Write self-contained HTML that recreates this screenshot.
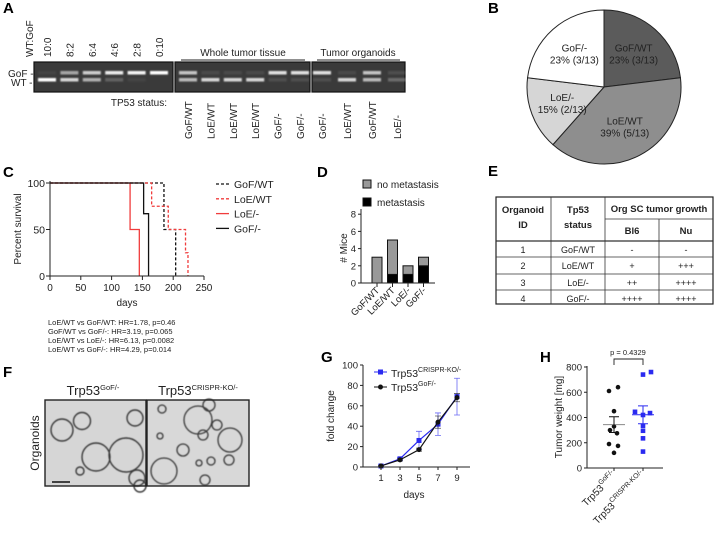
<!DOCTYPE html>
<html><head><meta charset="utf-8"><style>
html,body{margin:0;padding:0;background:#fff;}
svg{display:block;font-family:"Liberation Sans",Arial,sans-serif;}
.pl{font-weight:bold;font-size:15px;}
.t{font-size:10px;fill:#222;}
.s{font-size:7.5px;fill:#222;}
</style></head><body>
<svg id="fig" width="715" height="538" viewBox="0 0 715 538">
<defs>
<filter id="blur" x="-20%" y="-100%" width="140%" height="300%"><feGaussianBlur stdDeviation="0.9"/></filter>
<filter id="blur2"><feGaussianBlur stdDeviation="0.5"/></filter>
</defs>

<!-- PANEL A -->
<g>
<text class="pl" x="3" y="13">A</text>
<text class="t" transform="translate(33,57) rotate(-90)">WT:GoF</text>
<g id="ratioLabels"></g>
<text class="t" x="243" y="56" text-anchor="middle">Whole tumor tissue</text>
<line x1="181" y1="60" x2="305" y2="60" stroke="#222"/>
<text class="t" x="358" y="56" text-anchor="middle">Tumor organoids</text>
<line x1="317" y1="60" x2="400" y2="60" stroke="#222"/>
<text class="t" x="8" y="77">GoF -</text>
<text class="t" x="11" y="86">WT -</text>
<rect x="34" y="62" width="139" height="30" fill="#3a3a3a" stroke="#111" stroke-width="1.2"/>
<rect x="175" y="62" width="135" height="30" fill="#3a3a3a" stroke="#111" stroke-width="1.2"/>
<rect x="312" y="62" width="93" height="30" fill="#3a3a3a" stroke="#111" stroke-width="1.2"/>
<g id="bands" filter="url(#blur)"></g>
<text class="t" x="167" y="106" text-anchor="end">TP53 status:</text>
<g id="statusLabels"></g>
</g>

<!-- PANEL B -->
<g>
<text class="pl" x="488" y="13">B</text>
<g id="pie"></g>
</g>

<!-- PANEL C -->
<g>
<text class="pl" x="3" y="177">C</text>
<g id="km"></g>
</g>

<!-- PANEL D -->
<g>
<text class="pl" x="317" y="177">D</text>
<g id="bars"></g>
</g>

<!-- PANEL E -->
<g>
<text class="pl" x="488" y="176">E</text>
<g id="table" font-family="Liberation Sans, sans-serif"></g>
</g>

<!-- PANEL F -->
<g>
<text class="pl" x="3" y="377">F</text>
<text x="93" y="395" text-anchor="middle" font-size="13" fill="#222">Trp53<tspan font-size="7.5" dy="-5">GoF/-</tspan></text>
<text x="198" y="395" text-anchor="middle" font-size="13" fill="#222">Trp53<tspan font-size="7.5" dy="-5">CRISPR-KO/-</tspan></text>
<text transform="translate(39,443) rotate(-90)" text-anchor="middle" font-size="12" fill="#222">Organoids</text>
<g>
<rect x="45" y="400" width="101" height="86" fill="#d6d6d6"/>
<g fill="none" stroke="#3a3a3a" stroke-width="1.4" filter="url(#blur2)">
<circle cx="62" cy="430" r="11"/><circle cx="82" cy="421" r="8.5"/><circle cx="135" cy="418" r="8"/>
<circle cx="96" cy="457" r="14"/><circle cx="126" cy="455" r="17"/><circle cx="80" cy="471" r="4"/>
<circle cx="137" cy="478" r="8"/><circle cx="140" cy="486" r="6"/>
</g>
<rect x="45" y="400" width="101" height="86" fill="none" stroke="#222" stroke-width="1.4"/>
<line x1="52" y1="482" x2="70" y2="482" stroke="#111" stroke-width="1.5"/>
</g>
<g>
<rect x="147" y="400" width="102" height="86" fill="#d8d8d8"/>
<g fill="none" stroke="#3a3a3a" stroke-width="1.3" filter="url(#blur2)">
<circle cx="198" cy="420" r="14"/><circle cx="209" cy="405" r="6"/><circle cx="162" cy="409" r="4"/>
<circle cx="217" cy="425" r="5"/><circle cx="203" cy="435" r="5"/><circle cx="230" cy="440" r="12"/>
<circle cx="183" cy="450" r="6"/><circle cx="164" cy="471" r="13"/><circle cx="211" cy="461" r="4"/>
<circle cx="229" cy="460" r="5"/><circle cx="199" cy="463" r="3"/><circle cx="205" cy="480" r="5"/>
<circle cx="160" cy="436" r="3"/>
</g>
<rect x="147" y="400" width="102" height="86" fill="none" stroke="#222" stroke-width="1.4"/>
</g>
</g>

<!-- PANEL G -->
<g>
<text class="pl" x="321" y="362">G</text>
<g id="growth"></g>
</g>

<!-- PANEL H -->
<g>
<text class="pl" x="540" y="362">H</text>
<g id="weights"></g>
</g>
</svg>

<script>
const NS='http://www.w3.org/2000/svg';
function mk(parent,tag,attrs,txt){const e=document.createElementNS(NS,tag);for(const k in attrs)e.setAttribute(k,attrs[k]);if(txt!==undefined)e.textContent=txt;parent.appendChild(e);return e;}

// ---------- Panel A data ----------
const ratioLabels=['10:0','8:2','6:4','4:6','2:8','0:10'];
const ratioGof=[0.05,0.55,0.75,0.9,0.95,1];
const ratioWt=[1,0.8,0.6,0.2,0.05,0];
const tissueStatus=['GoF/WT','LoE/WT','LoE/WT','LoE/WT','GoF/-','GoF/-'];
const organoidStatus=['GoF/-','LoE/WT','GoF/WT','LoE/-'];
const bandGof={'GoF/WT':0.7,'LoE/WT':0.08,'GoF/-':0.85,'LoE/-':0.1};
const bandWt={'GoF/WT':0.65,'LoE/WT':0.8,'GoF/-':0.1,'LoE/-':0.25};
(function(){
  const rl=document.getElementById('ratioLabels'),bd=document.getElementById('bands'),sl=document.getElementById('statusLabels');
  const x0=47,dx=22.4;
  ratioLabels.forEach((l,i)=>{const x=x0+i*dx;
    const t=mk(rl,'text',{class:'t',transform:`translate(${x+4},57) rotate(-90)`},l);
    
    
    const g=mk(bd,'rect',{x:x-9,y:71,width:18,height:3.5,fill:'#fff','fill-opacity':ratioGof[i]});
    
    
    const w=mk(bd,'rect',{x:x-9,y:78,width:18,height:3.5,fill:'#fff','fill-opacity':ratioWt[i]});
    
    
  });
  const lanes=tissueStatus.map((s,i)=>[188+i*22.4,s]).concat(organoidStatus.map((s,i)=>[322+i*25,s]));
  lanes.forEach(([x,s])=>{
    const t=mk(sl,'text',{class:'t',transform:`translate(${x+4},139) rotate(-90)`},s);
    
    
    const g=mk(bd,'rect',{x:x-9,y:71,width:18,height:3.5,fill:'#fff','fill-opacity':bandGof[s]});
    
    
    const w=mk(bd,'rect',{x:x-9,y:78,width:18,height:3.5,fill:'#fff','fill-opacity':bandWt[s]});
    
    
  });
})();

// ---------- Panel B data ----------
const pieLabels=['GoF/WT','LoE/WT','LoE/-','GoF/-'];
const pieCounts=[3,5,2,3];
const piePct=['23%','39%','15%','23%'];
const pieColors=['#5b5b5b','#8e8e8e','#d6d6d6','#ffffff'];
(function(){
  const g=document.getElementById('pie');const cx=604,cy=87,r=77;
  const tot=pieCounts.reduce((a,b)=>a+b,0);let a0=0;
  pieCounts.forEach((c,i)=>{const a1=a0+c/tot*2*Math.PI;
    const p=(a)=>[cx+r*Math.sin(a),cy-r*Math.cos(a)];
    const [x0,y0]=p(a0),[x1,y1]=p(a1);
    const s=mk(g,'path',{d:`M${cx},${cy}L${x0},${y0}A${r},${r} 0 ${a1-a0>Math.PI?1:0} 1 ${x1},${y1}Z`,fill:pieColors[i],stroke:'#222','stroke-width':1});
    
    
    const am=(a0+a1)/2;const lr=r*0.58;const lx=cx+lr*Math.sin(am),ly=cy-lr*Math.cos(am);
    const t1=mk(g,'text',{class:'t',x:lx,y:ly-2,'text-anchor':'middle'},pieLabels[i]);
    
    
    const t2=mk(g,'text',{class:'t',x:lx,y:ly+10,'text-anchor':'middle'},`${piePct[i]} (${c}/${tot})`);
    
    
    a0=a1;});
})();

// ---------- Panel C data ----------
const kmNames=['GoF/WT','LoE/WT','LoE/-','GoF/-'];
const kmTimes=[[0,185,204],[0,165,192,220,224],[0,130,145],[0,152,160]];
const kmSurv=[[100,50,0],[100,75,50,25,0],[100,50,0],[100,67,0]];
const kmColor=['#111','#f03c3c','#f03c3c','#111'];
const kmDash=['3,2','3,2','',''];
const kmXTicks=[0,50,100,150,200,250];
const kmYTicks=[0,50,100];
const kmStats=['LoE/WT vs GoF/WT: HR=1.78, p=0.46','GoF/WT vs GoF/-: HR=3.19, p=0.065','LoE/WT vs LoE/-: HR=6.13, p=0.0082','LoE/WT vs GoF/-: HR=4.29, p=0.014'];
(function(){
  const g=document.getElementById('km');
  const X=v=>50+v*(204-50)/250,Y=v=>276-v*(276-183)/100;
  kmNames.forEach((n,i)=>{let d=`M${X(kmTimes[i][0])},${Y(kmSurv[i][0])}`;
    for(let k=1;k<kmTimes[i].length;k++){d+=`H${X(kmTimes[i][k])}V${Y(kmSurv[i][k])}`;}
    const p=mk(g,'path',{d,fill:'none',stroke:kmColor[i],'stroke-width':1.3,'stroke-dasharray':kmDash[i]});
    
    
    const ly=184+i*14.8;
    const l=mk(g,'line',{x1:216,y1:ly,x2:229,y2:ly,stroke:kmColor[i],'stroke-width':1.3,'stroke-dasharray':kmDash[i]});
    
    
    const t=mk(g,'text',{x:234,y:ly+4,'font-size':'10.5',fill:'#222'},n);
    
    
  });
  const ax=mk(g,'path',{d:`M50,181V276H204`,fill:'none',stroke:'#222','stroke-width':1});
  
  
  kmXTicks.forEach(v=>{mk(g,'line',{x1:X(v),y1:276,x2:X(v),y2:280,stroke:'#222'});
    const t=mk(g,'text',{class:'t',x:X(v),y:291,'text-anchor':'middle','font-size':'10.5'},v);
    
    });
  kmYTicks.forEach(v=>{mk(g,'line',{x1:46,y1:Y(v),x2:50,y2:Y(v),stroke:'#222'});
    const t=mk(g,'text',{x:45,y:Y(v)+4,'text-anchor':'end','font-size':'10.5',fill:'#222'},v);
    
    });
  const yl=mk(g,'text',{transform:'translate(21,229) rotate(-90)','text-anchor':'middle','font-size':'10',fill:'#222'},'Percent survival');
  
  
  const xl=mk(g,'text',{x:127,y:306,'text-anchor':'middle','font-size':'10',fill:'#222'},'days');
  
  
  kmStats.forEach((s,i)=>{const t=mk(g,'text',{class:'s',x:48,y:325+i*9},s);
    
    });
})();

// ---------- Panel D data ----------
const dCats=['GoF/WT','LoE/WT','LoE/-','GoF/-'];
const dTotal=[3,5,2,3];
const dMet=[0,1,1,2];
const dYTicks=[0,2,4,6,8];
(function(){
  const g=document.getElementById('bars');
  const Y=v=>283-v*8.6, X=i=>377+i*15.5;
  dCats.forEach((c,i)=>{
    const r1=mk(g,'rect',{x:X(i)-5,y:Y(dTotal[i]),width:10,height:Y(0)-Y(dTotal[i]),fill:'#999',stroke:'#111','stroke-width':1});
    
    
    if(dMet[i]>0){const r2=mk(g,'rect',{x:X(i)-5,y:Y(dMet[i]),width:10,height:Y(0)-Y(dMet[i]),fill:'#000',stroke:'#111','stroke-width':1});
      
      }
    mk(g,'line',{x1:X(i),y1:283,x2:X(i),y2:287,stroke:'#222'});
    const t=mk(g,'text',{transform:`translate(${X(i)+3},291) rotate(-45)`,'text-anchor':'end','font-size':'9.5',fill:'#222'},c);
    
    
  });
  const ax=mk(g,'path',{d:`M361,${Y(8.6)}V283H435`,fill:'none',stroke:'#222'});
  
  
  dYTicks.forEach(v=>{mk(g,'line',{x1:358,y1:Y(v),x2:361,y2:Y(v),stroke:'#222'});
    const t=mk(g,'text',{x:356,y:Y(v)+3.5,'text-anchor':'end','font-size':'9.5',fill:'#222'},v);
    
    });
  const yl=mk(g,'text',{transform:'translate(347,248) rotate(-90)','text-anchor':'middle','font-size':'10',fill:'#222'},'# Mice');
  
  
  [['no metastasis','#999',184],['metastasis','#000',202]].forEach(([n,c,y])=>{
    const b=mk(g,'rect',{x:363,y:y-4,width:8,height:8,fill:c,stroke:'#111'});
    
    
    const t=mk(g,'text',{x:377,y:y+4,'font-size':'10',fill:'#222'},n);
    
    });
})();

// ---------- Panel E table ----------
const tIds=['1','2','3','4'];
const tStatus=['GoF/WT','LoE/WT','LoE/-','GoF/-'];
const tBl6=['-','+','++','++++'];
const tNu=['-','+++','++++','++++'];
(function(){
  const g=document.getElementById('table');
  const rows=[241,257,274,290,304];
  const L=(a,b,c,d,w)=>mk(g,'line',{x1:a,y1:b,x2:c,y2:d,stroke:'#333','stroke-width':w||0.8});
  const fr=mk(g,'rect',{x:496,y:197,width:217,height:107,fill:'none',stroke:'#222','stroke-width':1.2});
  
  
  L(551,197,551,304);L(605,197,605,304);L(659,219,659,304);L(605,219,713,219);L(496,241,713,241,1.2);
  rows.slice(1,4).forEach(y=>L(496,y,713,y));
  const T=(x,y,s,b,name)=>{const t=mk(g,'text',{x,y,'text-anchor':'middle','font-size':b?'9.5':'9',fill:'#222','font-weight':b?'bold':'normal'},s);
    
    };
  T(523,213,'Organoid',1,'header-organoid');T(523,228,'ID',1,'header-id');
  T(578,213,'Tp53',1,'header-tp53');T(578,228,'status',1,'header-status');
  T(659,212,'Org SC tumor growth',1,'header-growth');T(632,234,'Bl6',1,'header-bl6');T(686,234,'Nu',1,'header-nu');
  tIds.forEach((id,i)=>{const y=rows[i]+12;
    T(523,y,id,0,'cell-id');T(578,y,tStatus[i],0,'cell-status');T(632,y,tBl6[i],0,'cell-bl6');T(686,y,tNu[i],0,'cell-nu');});
})();

// ---------- Panel G data ----------
const gDays=[1,3,5,7,9];
const gCrispr=[1,8,26,42,69];
const gCrisprErr=[1,1,9,11,18];
const gGof=[1,7,17,44,68];
const gGofErr=[0.5,1,1.5,6,4];
const gYTicks=[0,20,40,60,80,100];
(function(){
  const g=document.getElementById('growth');
  const X=d=>381+(d-1)*9.5,Y=v=>467-v*1.02;
  [[gCrispr,gCrisprErr,'#2a2af0','crispr'],[gGof,gGofErr,'#111','gof']].forEach(([vals,err,c,n])=>{
    gDays.forEach((d,i)=>{const e=mk(g,'path',{d:`M${X(d)},${Y(vals[i]-err[i])}V${Y(vals[i]+err[i])}M${X(d)-3},${Y(vals[i]+err[i])}h6M${X(d)-3},${Y(vals[i]-err[i])}h6`,stroke:c,'stroke-width':0.8,fill:'none','stroke-opacity':0.7});
      
      });
    const p=mk(g,'polyline',{points:gDays.map((d,i)=>`${X(d)},${Y(vals[i])}`).join(' '),fill:'none',stroke:c,'stroke-width':1.2});
    
    
    gDays.forEach((d,i)=>{const m=n==='crispr'?mk(g,'rect',{x:X(d)-2.5,y:Y(vals[i])-2.5,width:5,height:5,fill:c}):mk(g,'circle',{cx:X(d),cy:Y(vals[i]),r:2.5,fill:c});
      
      });
  });
  const ax=mk(g,'path',{d:'M363,365V467H470',fill:'none',stroke:'#222'});
  
  
  gYTicks.forEach(v=>{mk(g,'line',{x1:360,y1:Y(v),x2:363,y2:Y(v),stroke:'#222'});
    const t=mk(g,'text',{x:358,y:Y(v)+3.5,'text-anchor':'end','font-size':'9.5',fill:'#222'},v);
    
    });
  gDays.forEach(d=>{mk(g,'line',{x1:X(d),y1:467,x2:X(d),y2:470,stroke:'#222'});
    const t=mk(g,'text',{x:X(d),y:481,'text-anchor':'middle','font-size':'9.5',fill:'#222'},d);
    
    });
  const yl=mk(g,'text',{transform:'translate(334,416) rotate(-90)','text-anchor':'middle','font-size':'10',fill:'#222'},'fold change');
  
  
  const xl=mk(g,'text',{x:414,y:498,'text-anchor':'middle','font-size':'10',fill:'#222'},'days');
  
  
  mk(g,'line',{x1:374,y1:372,x2:387,y2:372,stroke:'#2a2af0'});mk(g,'rect',{x:378,y:369.5,width:5,height:5,fill:'#2a2af0'});
  mk(g,'line',{x1:374,y1:387,x2:387,y2:387,stroke:'#111'});mk(g,'circle',{cx:380.5,cy:387,r:2.5,fill:'#111'});
  const l1=mk(g,'text',{x:391,y:377,'font-size':'10.5',fill:'#222'},'Trp53');mk(l1,'tspan',{'font-size':'7',dy:'-5'},'CRISPR-KO/-');
  
  
  const l2=mk(g,'text',{x:391,y:391,'font-size':'10.5',fill:'#222'},'Trp53');mk(l2,'tspan',{'font-size':'7',dy:'-5'},'GoF/-');
  
  
})();

// ---------- Panel H data ----------
const hGof=[610,640,450,330,300,275,190,175,120];
const hCrispr=[740,760,445,435,420,335,295,235,130];
const hYTicks=[0,200,400,600,800];
const hP='p = 0.4329';
(function(){
  const g=document.getElementById('weights');
  const Yv=v=>468-v*0.12625;
  const cx=[614,643];
  const jit=[[-5,4,0,0,-4,3,-5,4,0],[0,8,-8,7,0,0,0,0,0]];
  [[hGof,'#111','gof'],[hCrispr,'#2a2af0','crispr']].forEach(([vals,c,n],k)=>{
    vals.forEach((v,i)=>{const x=cx[k]+jit[k][i];
      const m=n==='gof'?mk(g,'circle',{cx:x,cy:Yv(v),r:2.3,fill:c}):mk(g,'rect',{x:x-2.3,y:Yv(v)-2.3,width:4.6,height:4.6,fill:c});
      
      });
    const mean=vals.reduce((a,b)=>a+b,0)/vals.length;
    const sd=Math.sqrt(vals.reduce((a,b)=>a+(b-mean)**2,0)/(vals.length-1));const se=sd/Math.sqrt(vals.length);
    const ml=mk(g,'line',{x1:cx[k]-11,y1:Yv(mean),x2:cx[k]+11,y2:Yv(mean),stroke:n==='gof'?'#888':c,'stroke-width':1});
    
    
    const e=mk(g,'path',{d:`M${cx[k]},${Yv(mean-se)}V${Yv(mean+se)}M${cx[k]-5},${Yv(mean+se)}h10M${cx[k]-5},${Yv(mean-se)}h10`,stroke:c,fill:'none','stroke-width':1});
    
    
  });
  const ax=mk(g,'path',{d:'M587,366V468H663',fill:'none',stroke:'#222'});
  
  
  hYTicks.forEach(v=>{mk(g,'line',{x1:584,y1:Yv(v),x2:587,y2:Yv(v),stroke:'#222'});
    const t=mk(g,'text',{x:582,y:Yv(v)+3.5,'text-anchor':'end','font-size':'9.5',fill:'#222'},v);
    
    });
  cx.forEach(x=>mk(g,'line',{x1:x,y1:468,x2:x,y2:471,stroke:'#222'}));
  const yl=mk(g,'text',{transform:'translate(562,417) rotate(-90)','text-anchor':'middle','font-size':'10',fill:'#222'},'Tumor weight [mg]');
  
  
  const x1=mk(g,'text',{transform:'translate(617,476) rotate(-45)','text-anchor':'end','font-size':'10',fill:'#222'},'Trp53');mk(x1,'tspan',{'font-size':'7',dy:'-5'},'GoF/-');
  
  
  const x2=mk(g,'text',{transform:'translate(646,476) rotate(-45)','text-anchor':'end','font-size':'10',fill:'#222'},'Trp53');mk(x2,'tspan',{'font-size':'7',dy:'-5'},'CRISPR-KO/-');
  
  
  const br=mk(g,'path',{d:'M614,365V359H643V365',fill:'none',stroke:'#222','stroke-width':0.9});
  
  
  const pt=mk(g,'text',{x:628,y:355,'text-anchor':'middle','font-size':'7.5',fill:'#222'},hP);
  
  
})();
</script>
</body></html>
